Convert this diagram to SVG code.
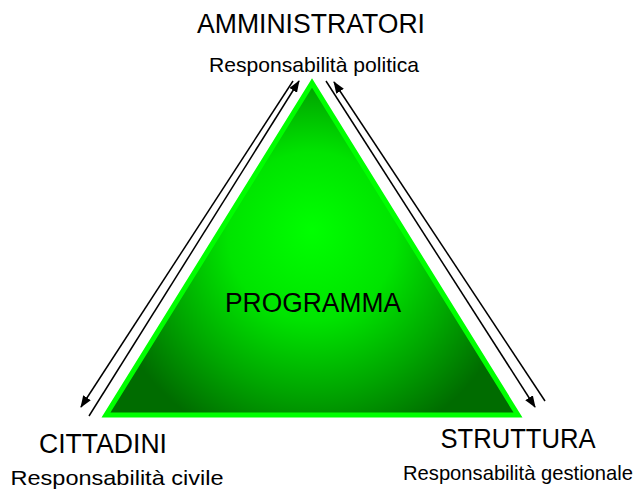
<svg xmlns="http://www.w3.org/2000/svg" width="640" height="491" viewBox="0 0 640 491">
  <style>
    .title { font-family: "Liberation Sans", Arial, sans-serif; font-size: 27px; fill: #000; }
    .sub { font-family: "Liberation Sans", Arial, sans-serif; font-size: 21px; fill: #000; }
    .flow { stroke: #000; stroke-width: 1.5; fill: none; marker-end: url(#arrow); }
  </style>
  <defs>
    <marker id="arrow" markerUnits="userSpaceOnUse" markerWidth="12" markerHeight="9" refX="11" refY="4.5" orient="auto">
      <path d="M0,0 L12,4.5 L0,9 z" fill="#000"/>
    </marker>
    <radialGradient id="glow" gradientUnits="userSpaceOnUse" cx="312" cy="245" r="210" fx="312" fy="230">
      <stop offset="0" stop-color="#00ff00"/>
      <stop offset="0.4" stop-color="#00e400"/>
      <stop offset="0.72" stop-color="#00a600"/>
      <stop offset="1" stop-color="#006c00"/>
    </radialGradient>
  </defs>

  <rect width="640" height="491" fill="#fff"/>

  <!-- central triangle -->
  <g id="programma">
    <polygon points="312,83 106,415 518,415" fill="url(#glow)" stroke="#00ff00" stroke-width="5" stroke-linejoin="miter"/>
    <text class="title" x="313" y="312" text-anchor="middle" font-size="26" textLength="176" lengthAdjust="spacingAndGlyphs">PROGRAMMA</text>
  </g>

  <!-- corner labels -->
  <g id="amministratori">
    <text class="title" x="311" y="33" text-anchor="middle" textLength="228" lengthAdjust="spacingAndGlyphs">AMMINISTRATORI</text>
    <text class="sub" x="314" y="72" text-anchor="middle" textLength="210" lengthAdjust="spacingAndGlyphs">Responsabilità politica</text>
  </g>
  <g id="cittadini">
    <text class="title" x="103" y="453" text-anchor="middle" textLength="128" lengthAdjust="spacingAndGlyphs">CITTADINI</text>
    <text class="sub" x="117" y="485" text-anchor="middle" textLength="213" lengthAdjust="spacingAndGlyphs">Responsabilità civile</text>
  </g>
  <g id="struttura">
    <text class="title" x="518" y="448" text-anchor="middle" textLength="155" lengthAdjust="spacingAndGlyphs">STRUTTURA</text>
    <text class="sub" x="518" y="480" text-anchor="middle" font-size="19" textLength="230" lengthAdjust="spacingAndGlyphs">Responsabilità gestionale</text>
  </g>

  <!-- connectors -->
  <g id="connectors">
    <line class="flow" x1="293" y1="81" x2="81" y2="407"/>
    <line class="flow" x1="89" y1="416" x2="299" y2="81"/>
    <line class="flow" x1="326" y1="81" x2="535" y2="407"/>
    <line class="flow" x1="545" y1="401" x2="334" y2="82"/>
  </g>
</svg>
